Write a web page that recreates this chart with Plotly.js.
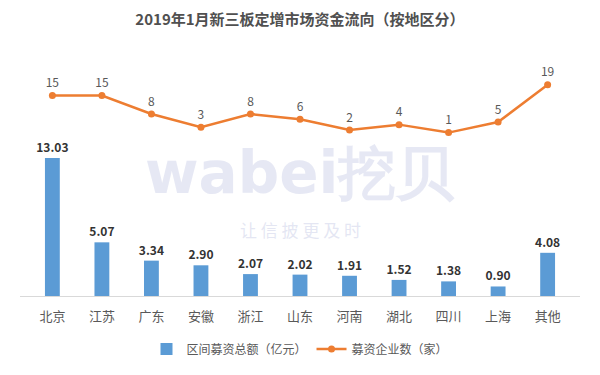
<!DOCTYPE html>
<html><head><meta charset="utf-8">
<script src="https://cdn.plot.ly/plotly-3.0.1.min.js"></script>
<style>body{margin:0;background:#fff}#c{width:600px;height:375px}</style>
</head><body><div id="c"></div>
<script>
const regions = ["北京","江苏","广东","安徽","浙江","山东","河南","湖北","四川","上海","其他"];
const amounts = [13.03,5.07,3.34,2.90,2.07,2.02,1.91,1.52,1.38,0.90,4.08];
const companies = [15,15,8,3,8,6,2,4,1,5,19];
const amountLabels = ["13.03","5.07","3.34","2.90","2.07","2.02","1.91","1.52","1.38","0.90","4.08"];
const FONT = "Noto Sans CJK SC, Noto Sans, sans-serif";

const data = [
  {type:"bar", name:"区间募资总额（亿元）", x:regions, y:amounts, yaxis:"y",
   marker:{color:"#5B9BD5"}, text:amountLabels, textposition:"outside", cliponaxis:false,
   constraintext:"none",
   textfont:{family:FONT, size:12, color:"#333333", weight:"bold"}, hoverinfo:"x+y"},
  {type:"scatter", mode:"lines+markers+text", name:"募资企业数（家）", x:regions, y:companies, yaxis:"y2",
   line:{color:"#ED7D31", width:2.5}, marker:{color:"#ED7D31", size:7},
   text:companies.map(String), textposition:"top center", cliponaxis:false,
   textfont:{family:FONT, size:12, color:"#595959"}}
];

const layout = {
  width:600, height:375,
  margin:{l:20, r:20, t:70, b:74},
  paper_bgcolor:"#fff", plot_bgcolor:"rgba(0,0,0,0)",
  font:{family:FONT, color:"#595959"},
  title:{text:"2019年1月新三板定增市场资金流向（按地区分）", x:0.5, y:0.962, yanchor:"top",
         font:{family:FONT, size:15, color:"#505050", weight:"bold"}},
  bargap:0.7,
  showlegend:true,
  legend:{orientation:"h", x:0.5, xanchor:"center", y:-0.235, yanchor:"middle",
          font:{family:FONT, size:12, color:"#595959"}},
  xaxis:{showgrid:false, showline:true, linecolor:"#d9d9d9", linewidth:1, ticks:"",
         ticklabelstandoff:8,
         tickfont:{family:FONT, size:13, color:"#595959"}, fixedrange:true},
  yaxis:{range:[0,21.35], visible:false, showgrid:false, zeroline:false},
  yaxis2:{range:[-60.6,24.6], overlaying:"y", side:"right", visible:false, showgrid:false, zeroline:false},
  annotations:[
    {text:"wabei挖贝", x:0.5, y:0.545, xref:"paper", yref:"paper", showarrow:false, yanchor:"middle",
     font:{family:"DejaVu Sans, sans-serif", size:58, color:"rgba(210,214,235,0.55)", weight:"bold"}},
    {text:"让 信 披 更 及 时", x:0.5, y:0.295, xref:"paper", yref:"paper", showarrow:false, yanchor:"middle",
     font:{family:FONT, size:17, color:"rgba(210,214,235,0.6)"}}
  ]
};
Plotly.newPlot("c", data, layout, {displayModeBar:false, staticPlot:true});
</script></body></html>
